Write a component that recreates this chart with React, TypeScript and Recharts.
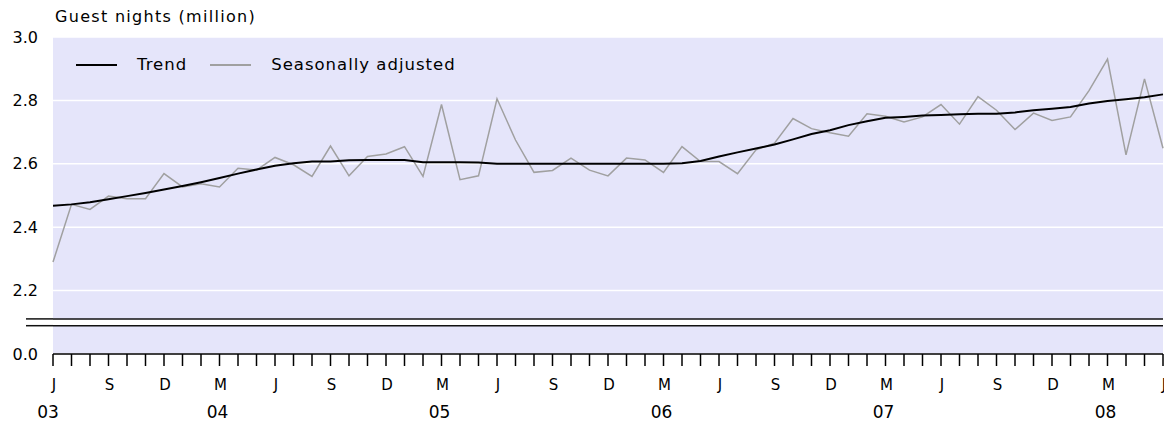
import { LineChart, Line, XAxis, YAxis, CartesianGrid, Legend, ReferenceArea, ReferenceLine } from 'recharts'

const months = [
  'Jun 03', 'Jul 03', 'Aug 03', 'Sep 03', 'Oct 03', 'Nov 03', 'Dec 03',
  'Jan 04', 'Feb 04', 'Mar 04', 'Apr 04', 'May 04', 'Jun 04', 'Jul 04', 'Aug 04', 'Sep 04', 'Oct 04', 'Nov 04', 'Dec 04',
  'Jan 05', 'Feb 05', 'Mar 05', 'Apr 05', 'May 05', 'Jun 05', 'Jul 05', 'Aug 05', 'Sep 05', 'Oct 05', 'Nov 05', 'Dec 05',
  'Jan 06', 'Feb 06', 'Mar 06', 'Apr 06', 'May 06', 'Jun 06', 'Jul 06', 'Aug 06', 'Sep 06', 'Oct 06', 'Nov 06', 'Dec 06',
  'Jan 07', 'Feb 07', 'Mar 07', 'Apr 07', 'May 07', 'Jun 07', 'Jul 07', 'Aug 07', 'Sep 07', 'Oct 07', 'Nov 07', 'Dec 07',
  'Jan 08', 'Feb 08', 'Mar 08', 'Apr 08', 'May 08', 'Jun 08',
]

const trend = [
  2.468, 2.472, 2.479, 2.488, 2.498, 2.508, 2.519,
  2.530, 2.542, 2.555, 2.569, 2.582, 2.594, 2.602, 2.607, 2.607, 2.611, 2.612, 2.612,
  2.612, 2.605, 2.605, 2.605, 2.604, 2.600, 2.600, 2.600, 2.600, 2.600, 2.600, 2.600,
  2.600, 2.600, 2.600, 2.602, 2.609, 2.623, 2.636, 2.648, 2.661, 2.677, 2.694, 2.706,
  2.722, 2.734, 2.745, 2.748, 2.752, 2.754, 2.756, 2.758, 2.758, 2.762, 2.769, 2.774,
  2.779, 2.790, 2.798, 2.804, 2.810, 2.819,
]

const seasonal = [
  2.290, 2.472, 2.456, 2.498, 2.490, 2.490, 2.569,
  2.527, 2.537, 2.527, 2.586, 2.580, 2.620, 2.597, 2.560, 2.656, 2.562, 2.623, 2.631,
  2.654, 2.560, 2.787, 2.550, 2.562, 2.805, 2.675, 2.573, 2.579, 2.618, 2.580, 2.562,
  2.618, 2.612, 2.573, 2.654, 2.607, 2.607, 2.569, 2.644, 2.665, 2.743, 2.711, 2.698,
  2.687, 2.758, 2.750, 2.732, 2.748, 2.787, 2.725, 2.812, 2.769, 2.708, 2.760, 2.737,
  2.748, 2.831, 2.930, 2.628, 2.868, 2.649,
]

// month letter shown every quarter, year shown under these months
const quarterLetters: Record<string, string> = { Jun: 'J', Sep: 'S', Dec: 'D', Mar: 'M' }
const yearMonths = ['Jun 03', 'Mar 04', 'Mar 05', 'Mar 06', 'Mar 07', 'Mar 08']
const legendOrder = ['Trend', 'Seasonally adjusted']

// axis is broken between 0.0 and 2.2; the bottom of the scale stands for 0.0
const yTicks = [2.0, 2.1, 2.2, 2.4, 2.6, 2.8, 3.0]
const AXIS_FLOOR = 2.0
const BREAK = 2.1

const data = months.map((month, i) => ({ month, trend: trend[i], seasonal: seasonal[i] }))

const FONT = '"DejaVu Sans", Verdana, sans-serif'

function YTick({ x, y, payload }: any) {
  if (payload.value === BREAK) {
    return (
      <g>
        <rect x={x - 12} y={y - 3} width={27} height={6} fill="#fff" />
        <line x1={x - 12} x2={x + 15} y1={y - 3.4} y2={y - 3.4} stroke="#111" strokeWidth={1.5} />
        <line x1={x - 12} x2={x + 15} y1={y + 3.4} y2={y + 3.4} stroke="#111" strokeWidth={1.5} />
      </g>
    )
  }
  const label = payload.value === AXIS_FLOOR ? '0.0' : payload.value.toFixed(1)
  return (
    <text x={x} y={y} textAnchor="end" dominantBaseline="central" fontFamily={FONT} fontSize={16} fill="#000">
      {label}
    </text>
  )
}

function XTick({ x, y, payload }: any) {
  const m = payload.value as string
  const letter = quarterLetters[m.slice(0, 3)]
  const year = yearMonths.includes(m) ? m.slice(4) : null
  return (
    <g fontFamily={FONT} fill="#000">
      {letter && (
        <text x={x + 1} y={y + 22} textAnchor="middle" fontSize={15}>
          {letter}
        </text>
      )}
      {year && (
        <text x={m === 'Jun 03' ? x - 5 : x - 2} y={y + 50} textAnchor="middle" fontSize={17}>
          {year}
        </text>
      )}
    </g>
  )
}

function LegendContent({ payload }: any) {
  const items = [...(payload || [])].sort((a: any, b: any) => legendOrder.indexOf(a.value) - legendOrder.indexOf(b.value))
  return (
    <div style={{ display: 'flex', alignItems: 'center', fontFamily: FONT, fontSize: 16.5, letterSpacing: 1, lineHeight: '20px', color: '#000', whiteSpace: 'nowrap' }}>
      {items.map((item: any) => (
        <div key={item.value} style={{ display: 'flex', alignItems: 'center', marginRight: 23 }}>
          <span style={{ display: 'inline-block', width: 41, height: item.value === 'Trend' ? 2 : 1.5, background: item.color, marginRight: 20 }} />
          <span>{item.value}</span>
        </div>
      ))}
    </div>
  )
}

export default function App() {
  return (
    <div style={{ position: 'absolute', left: 0, top: 0, width: 1164, height: 423, background: '#fff' }}>
      <div style={{ position: 'absolute', left: 55, top: 7, fontFamily: FONT, fontSize: 16, letterSpacing: 1.3, lineHeight: '20px', color: '#000' }}>
        Guest nights (million)
      </div>
      <LineChart width={1164} height={423} data={data} margin={{ top: 37, right: 1, bottom: 0, left: 0 }}>
        <CartesianGrid vertical={false} stroke="#fff" strokeWidth={1.5} fill="#E5E5FA" />
        <ReferenceArea y1={BREAK - 0.0107} y2={BREAK + 0.0107} fill="#fff" fillOpacity={1} stroke="none" />
        <ReferenceLine y={BREAK + 0.0107} stroke="#111" strokeWidth={1.5} />
        <ReferenceLine y={BREAK - 0.0107} stroke="#111" strokeWidth={1.5} />
        <XAxis
          dataKey="month"
          interval={0}
          height={69}
          tickSize={12}
          tickLine={{ stroke: '#000', strokeWidth: 1.5 }}
          axisLine={{ stroke: '#000', strokeWidth: 1.5 }}
          tick={<XTick />}
        />
        <YAxis
          width={53}
          domain={[AXIS_FLOOR, 3.0]}
          ticks={yTicks}
          allowDataOverflow
          axisLine={false}
          tickLine={false}
          tickMargin={9}
          tick={<YTick />}
        />
        <Legend
          layout="vertical"
          align="center"
          verticalAlign="middle"
          content={<LegendContent />}
          wrapperStyle={{ left: 76, top: 55, width: 'auto', height: 'auto' }}
        />
        <Line
          type="linear"
          dataKey="seasonal"
          name="Seasonally adjusted"
          stroke="#A0A0A0"
          strokeWidth={1.5}
          dot={false}
          isAnimationActive={false}
          legendType="line"
        />
        <Line
          type="linear"
          dataKey="trend"
          name="Trend"
          stroke="#000"
          strokeWidth={2}
          dot={false}
          isAnimationActive={false}
          legendType="line"
        />
      </LineChart>
    </div>
  )
}
